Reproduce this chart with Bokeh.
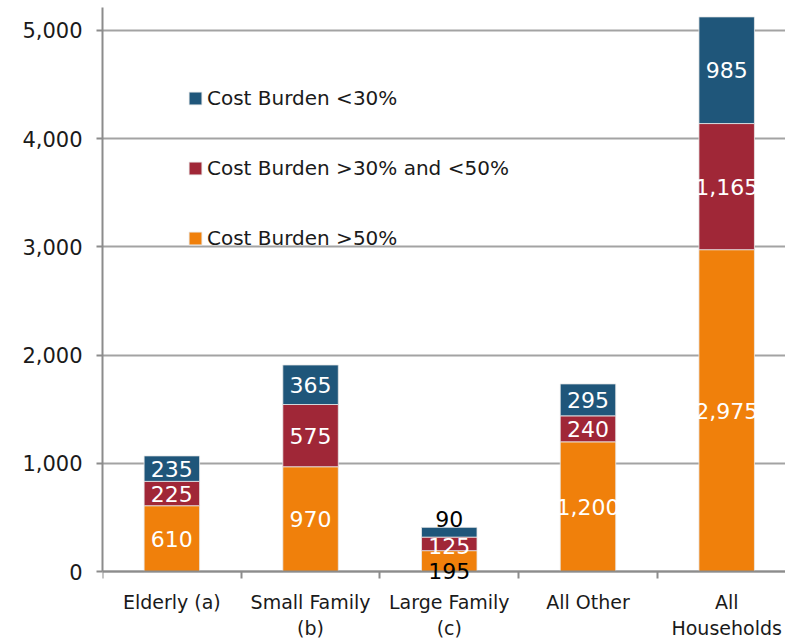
from bokeh.plotting import figure
from bokeh.models import (FixedTicker, Range1d, Legend, LegendItem, ColumnDataSource,
                          NumeralTickFormatter, LabelSet)
from bokeh.embed import file_html
from bokeh.resources import INLINE
from bokeh.core.properties import value

categories = ["Elderly (a)", "Small Family\n(b)", "Large Family\n(c)", "All Other", "All\nHouseholds"]
burden_gt50 = [610, 970, 195, 1200, 2975]
burden_30_50 = [225, 575, 125, 240, 1165]
burden_lt30 = [235, 365, 90, 295, 985]
series_names = ["Cost Burden >50%", "Cost Burden >30% and <50%", "Cost Burden <30%"]
y_ticks = [0, 1000, 2000, 3000, 4000, 5000]

ORANGE = "#F0800B"
RED = "#A02737"
BLUE = "#1F567A"
FONT = "DejaVu Sans"

xs = [i + 0.5 for i in range(len(categories))]
src = ColumnDataSource(dict(x=xs, gt50=burden_gt50, mid=burden_30_50, lt30=burden_lt30))

# frame runs to the bottom of the canvas so labels may spill below the zero line;
# the category axis is pinned at y = 0
p = figure(width=785, height=640, x_range=Range1d(0, 4.924), y_range=Range1d(-635, 5212),
           output_backend="svg", toolbar_location=None,
           min_border_left=102, min_border_right=0, min_border_top=7, min_border_bottom=0)
p.outline_line_color = None
p.background_fill_color = "white"
p.xgrid.grid_line_color = None
p.ygrid.grid_line_color = "#A3A3A3"
p.ygrid.grid_line_width = 2
p.ygrid.ticker = FixedTicker(ticks=y_ticks)

renderers = p.vbar_stack(["gt50", "mid", "lt30"], x="x", width=0.4, source=src,
                         fill_color=[ORANGE, RED, BLUE], line_color="#E8E8E8", line_width=0.8)

# data labels (segment centres; small large-family segments get dark labels nudged off the bar)
lx, ly, lt, lc, loff = [], [], [], [], []
for i, x in enumerate(xs):
    base = 0
    for j, vals in enumerate([burden_gt50, burden_30_50, burden_lt30]):
        v = vals[i]
        lx.append(x)
        ly.append(base + v / 2)
        lt.append(f"{v:,}")
        small = (i == 2 and j in (0, 2))
        lc.append("black" if small else "white")
        loff.append(13 if (i == 2 and j == 2) else (-10 if (i == 2 and j == 0) else (-2 if i == 2 else 0)))
        base += v
lsrc = ColumnDataSource(dict(x=lx, y=ly, text=lt, color=lc, yo=loff))
p.add_layout(LabelSet(x="x", y="y", text="text", source=lsrc, text_color="color", y_offset="yo",
                      text_align="center", text_baseline="middle", text_font=value(FONT),
                      text_font_size="22px"))

# axes
yax = p.yaxis[0]
yax.ticker = FixedTicker(ticks=y_ticks)
yax.formatter = NumeralTickFormatter(format="0,0")
yax.bounds = (0, 5212)
yax.axis_line_color = "#8C8C8C"
yax.axis_line_width = 2
yax.major_tick_line_color = "#8C8C8C"
yax.major_tick_line_width = 2
yax.major_tick_out = 6
yax.major_tick_in = 0
yax.minor_tick_line_color = None
yax.major_label_text_font = FONT
yax.major_label_text_font_size = "21px"
yax.major_label_text_color = "#1A1A1A"
yax.major_label_standoff = 14

xax = p.xaxis[0]
xax.fixed_location = 0
xax.ticker = FixedTicker(ticks=xs, minor_ticks=list(range(len(categories) + 1)))
xax.major_label_overrides = {x: c for x, c in zip(xs, categories)}
xax.axis_line_color = "#8C8C8C"
xax.axis_line_width = 2
xax.major_tick_line_color = None
xax.minor_tick_line_color = "#8C8C8C"
xax.minor_tick_line_width = 2
xax.minor_tick_out = 7
xax.minor_tick_in = 0
xax.major_label_text_font = FONT
xax.major_label_text_font_size = "19px"
xax.major_label_text_color = "#1A1A1A"
xax.major_label_standoff = 12

legend = Legend(items=[LegendItem(label=series_names[2], renderers=[renderers[2]]),
                       LegendItem(label=series_names[1], renderers=[renderers[1]]),
                       LegendItem(label=series_names[0], renderers=[renderers[0]])],
                location=(85, 390), orientation="vertical",
                glyph_width=16, glyph_height=16, label_height=24, label_standoff=4,
                spacing=46, padding=0, margin=0,
                label_text_font=FONT, label_text_font_size="20px", label_text_color="#1A1A1A",
                border_line_color=None, background_fill_alpha=0)
p.add_layout(legend)

open("out.html", "w").write(file_html(p, INLINE))
